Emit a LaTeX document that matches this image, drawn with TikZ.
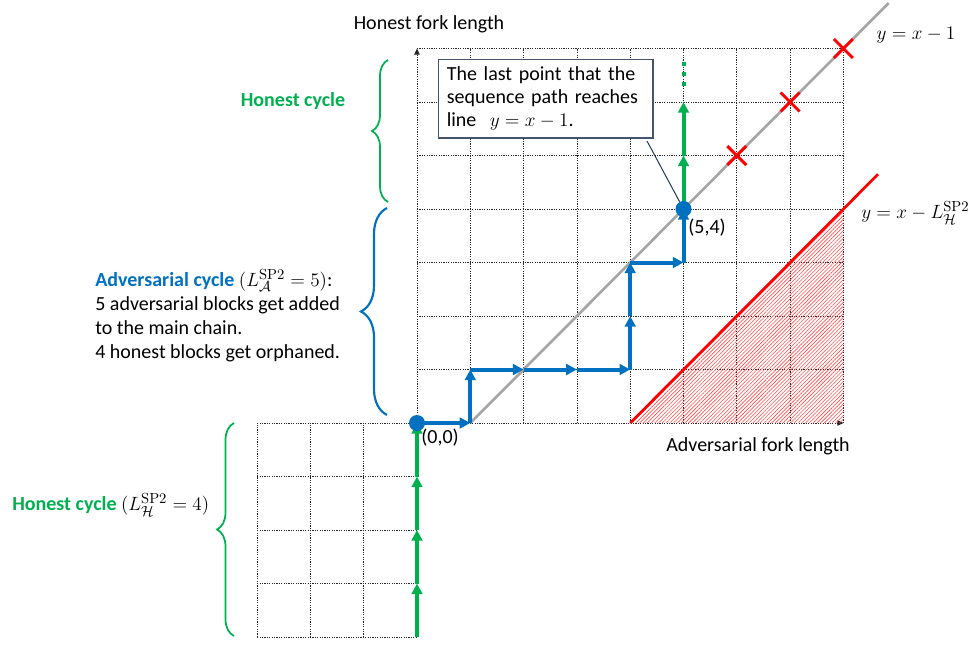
\documentclass[tikz,border=0pt]{standalone}
\usepackage[no-math]{fontspec}
\setmainfont{Carlito}
\usetikzlibrary{arrows.meta,decorations.pathreplacing,patterns.meta,shapes.misc}
\definecolor{cblue}{HTML}{0070C0}
\definecolor{cgreen}{HTML}{00B050}
\definecolor{cred}{HTML}{FF0000}
\definecolor{cgrey}{HTML}{A6A6A6}
\definecolor{cbox}{HTML}{44546A}
\definecolor{cptr}{HTML}{203864}
\begin{document}
\begin{tikzpicture}[x=0.75pt,y=-0.75pt,font=\fontsize{15}{18}\selectfont,
  gridline/.style={black!85,line width=0.6pt,dash pattern=on 0.9pt off 0.9pt},
  axistip/.style={-{Triangle[length=4.5pt,width=4pt]}},
  bluestep/.style={cblue,line width=3pt,-{Triangle[length=8pt,width=8pt]}},
  greenstep/.style={cgreen,line width=3pt,-{Triangle[length=8pt,width=8pt]}},
  pathdot/.style={circle,fill=cblue,inner sep=0pt,minimum size=12pt},
  redx/.style={cross out,draw=cred,line width=2.2pt,minimum size=12pt,inner sep=0pt},
  bluebrace/.style={cblue,line width=1.6pt,decorate},
  greenbrace/.style={cgreen,line width=1.3pt,decorate},
  lbl/.style={inner sep=0pt}]
\useasboundingbox (0,0) rectangle (974,644);

\begin{scope}[shift={(417,423)},x=39.975pt,y=40.125pt]
  % grids
  \foreach \i in {1,...,8} \draw[gridline] (\i,0) -- (\i,7);
  \foreach \j in {1,...,7} \draw[gridline] (0,\j) -- (8,\j);
  \draw[gridline,axistip] (0,0) -- (0,7);
  \draw[gridline,axistip] (0,0) -- (8,0);
  \foreach \i in {-3,-2,-1} \draw[gridline] (\i,-4) -- (\i,0);
  \foreach \j in {-4,...,-1} \draw[gridline] (-3,\j) -- (0,\j);
  \draw[gridline] (-3,0) -- (0,0);
  % hatched region
  \fill[pattern={Lines[angle=45,distance=2pt,line width=0.45pt]},pattern color=cred!70] (4,0) -- (8,0) -- (8,4) -- cycle;
  % lines
  \coordinate (gs) at (1,0);
  \coordinate (ge) at (8.85,7.85);
  \draw[cgrey,line width=2pt] (gs) -- (ge);
  \coordinate (rs) at (4,0);
  \coordinate (re) at (8.65,4.65);
  \draw[cred,line width=2pt] (rs) -- (re);
  \node[redx] (x1) at (6,5) {};
  \node[redx] (x2) at (7,6) {};
  \node[redx] (x3) at (8,7) {};
  % path points
  \coordinate (q0) at (0,0);
  \coordinate (q1) at (1,0);
  \coordinate (q2) at (1,1);
  \coordinate (q3) at (2,1);
  \coordinate (q4) at (3,1);
  \coordinate (q5) at (4,1);
  \coordinate (q6) at (4,2);
  \coordinate (q7) at (4,3);
  \coordinate (q8) at (5,3);
  \coordinate (q9) at (5,4);
  \coordinate (h1) at (5,5);
  \coordinate (h2) at (5,6);
  \coordinate (h3) at (5,6.3);
  \coordinate (h4) at (5,6.8);
  \coordinate (l0) at (0,-4);
  \coordinate (l1) at (0,-3);
  \coordinate (l2) at (0,-2);
  \coordinate (l3) at (0,-1);
  % green lower
  \draw[greenstep] (l0) -- (l1);
  \draw[greenstep] (l1) -- (l2);
  \draw[greenstep] (l2) -- (l3);
  \draw[greenstep] (l3) -- (q0);
  % blue path
  \draw[bluestep] (q0) -- (q1);
  \draw[bluestep] (q1) -- (q2);
  \draw[bluestep] (q2) -- (q3);
  \draw[bluestep] (q3) -- (q4);
  \draw[bluestep] (q4) -- (q5);
  \draw[bluestep] (q5) -- (q6);
  \draw[bluestep] (q6) -- (q7);
  \draw[bluestep] (q7) -- (q8);
  \draw[bluestep] (q8) -- (q9);
  % green upper
  \draw[greenstep] (q9) -- (h1);
  \draw[greenstep] (h1) -- (h2);
  \draw[cgreen,line width=3pt,dash pattern=on 3pt off 4.5pt] (h3) -- (h4);
  % dots
  \node[pathdot] (d0) at (q0) {};
  \node[pathdot] (d1) at (q9) {};
\end{scope}

% callout
\node[draw=cbox,line width=1pt,fill=white,align=left,text width=148pt,
      minimum width=161pt,minimum height=59pt,inner xsep=6.5pt,
      font=\fontsize{15}{17.5}\selectfont] (callout) at (545.5,98.5)
  {The last point that the\\sequence path reaches\\line \ $y=x-1$.};
\coordinate (ptr) at (647,141);
\draw[cptr,line width=0.75pt] (ptr) -- (d1);

% labels
\node[lbl] (yl) at (429,24) {Honest fork length};
\node[lbl] (xl) at (758,446) {Adversarial fork length};
\node[lbl] (o0) at (440,438) {(0,0)};
\node[lbl] (o54) at (707,228) {(5,4)};
\node[lbl] (ln1) at (916,35) {$y=x-1$};
\node[lbl,anchor=west] (ln2) at (861,213) {$y=x-L^{\mathrm{SP2}}_{\mathcal{H}}$};

\node[lbl,text=cgreen,font=\fontsize{15}{18}\selectfont\bfseries] (hc1) at (293,101) {Honest cycle};
\node[lbl,anchor=west,align=left,font=\fontsize{15}{18}\selectfont] (ac) at (95,316)
  {{\color{cblue}\bfseries Adversarial cycle} $(L^{\mathrm{SP2}}_{\mathcal{A}}=5)$:\\
   5 adversarial blocks get added\\to the main chain.\\4 honest blocks get orphaned.};
\node[lbl,anchor=west] (hc2) at (12,505)
  {{\color{cgreen}\bfseries Honest cycle} $(L^{\mathrm{SP2}}_{\mathcal{H}}=4)$};

% braces
\coordinate (b1a) at (388,202);
\coordinate (b1b) at (388,60);
\draw[greenbrace,decoration={brace,amplitude=12pt}] (b1a) -- (b1b);
\coordinate (b2a) at (387,415);
\coordinate (b2b) at (387,208);
\draw[bluebrace,decoration={brace,amplitude=19.5pt}] (b2a) -- (b2b);
\coordinate (b3a) at (234,636);
\coordinate (b3b) at (234,423);
\draw[greenbrace,decoration={brace,amplitude=12.75pt}] (b3a) -- (b3b);
\end{tikzpicture}
\end{document}
